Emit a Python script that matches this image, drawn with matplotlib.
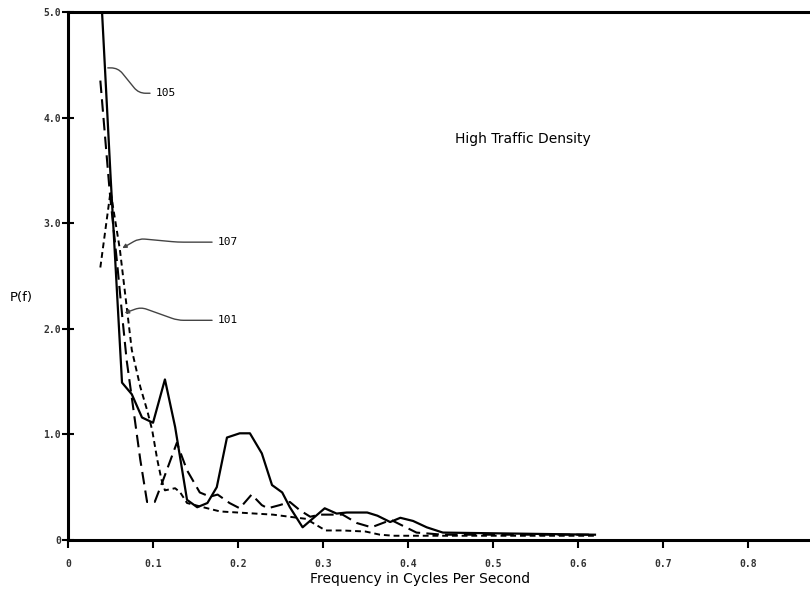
import matplotlib
matplotlib.use("Agg")
import matplotlib.pyplot as plt

# curve 105 (solid)
f_105 = [0.040, 0.050, 0.0635, 0.075, 0.087, 0.100, 0.114, 0.126, 0.140, 0.152,
         0.164, 0.175, 0.187, 0.202, 0.214, 0.228, 0.240, 0.252, 0.261, 0.276,
         0.302, 0.316, 0.328, 0.352, 0.364, 0.379, 0.391, 0.406, 0.422, 0.441, 0.620]
p_105 = [5.00, 3.45, 1.49, 1.38, 1.16, 1.11, 1.52, 1.07, 0.38, 0.31,
         0.35, 0.50, 0.97, 1.01, 1.01, 0.82, 0.52, 0.45, 0.31, 0.12,
         0.30, 0.25, 0.26, 0.26, 0.23, 0.17, 0.21, 0.18, 0.12, 0.07, 0.05]

# curve 101 (long dash)
f_101 = [0.038, 0.049, 0.058, 0.064, 0.069, 0.075, 0.085, 0.093, 0.102, 0.112,
         0.128, 0.140, 0.155, 0.167, 0.176, 0.190, 0.202, 0.216, 0.228, 0.235,
         0.249, 0.261, 0.273, 0.285, 0.296, 0.323, 0.340, 0.357, 0.380, 0.400,
         0.410, 0.441, 0.620]
p_101 = [4.35, 3.30, 2.60, 2.10, 1.70, 1.35, 0.76, 0.36, 0.36, 0.57,
         0.92, 0.66, 0.45, 0.41, 0.43, 0.35, 0.30, 0.43, 0.33, 0.30,
         0.33, 0.36, 0.28, 0.22, 0.24, 0.24, 0.16, 0.12, 0.19, 0.11,
         0.07, 0.05, 0.05]

# curve 107 (short dash)
f_107 = [0.038, 0.050, 0.061, 0.075, 0.085, 0.093, 0.099, 0.105, 0.110, 0.114,
         0.126, 0.132, 0.140, 0.159, 0.179, 0.241, 0.280, 0.303, 0.323, 0.350,
         0.367, 0.383, 0.423, 0.620]
p_107 = [2.58, 3.30, 2.75, 1.80, 1.45, 1.23, 1.04, 0.76, 0.57, 0.47,
         0.49, 0.45, 0.35, 0.31, 0.27, 0.24, 0.20, 0.09, 0.09, 0.08,
         0.05, 0.04, 0.04, 0.04]

xticks = [0, 0.1, 0.2, 0.3, 0.4, 0.5, 0.6, 0.7, 0.8]
xtick_labels = ["0", "0.1", "0.2", "0.3", "0.4", "0.5", "0.6", "0.7", "0.8"]
yticks = [0, 1, 2, 3, 4, 5]
ytick_labels = ["0", "1.0", "2.0", "3.0", "4.0", "5.0"]

fig = plt.figure(figsize=(8.1, 5.96), dpi=100)
ax = fig.add_axes([0.084, 0.094, 0.916, 0.886])

ax.plot(f_105, p_105, color="black", lw=1.6)
ax.plot(f_101, p_101, color="black", lw=1.5, dashes=(6, 3))
ax.plot(f_107, p_107, color="black", lw=1.4, dashes=(3, 2))

ax.set_xlim(0, 0.873)
ax.set_ylim(0, 5.0)
ax.spines["right"].set_visible(False)
for s in ["left", "top", "bottom"]:
    ax.spines[s].set_linewidth(2.2)

tick_font = {"family": "DejaVu Sans Mono", "size": 7, "color": "#333333", "weight": "bold"}
ax.set_xticks(xticks)
ax.set_xticklabels(xtick_labels, fontdict=tick_font)
ax.set_yticks(yticks)
ax.set_yticklabels(ytick_labels, fontdict=tick_font)
ax.tick_params(axis="x", direction="out", length=6, width=1.5, pad=8)
ax.tick_params(axis="y", direction="inout", length=8, width=1.5, pad=1)

ax.set_xlabel("Frequency in Cycles Per Second", fontsize=10, labelpad=2, x=0.474)
ax.text(-0.055, 2.3, "P(f)", fontsize=9.5, ha="center", va="center", clip_on=False)
ax.text(0.535, 3.8, "High Traffic Density", fontsize=10, ha="center", va="center")

lbl = dict(fontsize=8, family="DejaVu Sans Mono", va="center", ha="left")
ax.annotate("105", xy=(0.0435, 4.47), xytext=(0.103, 4.23), **lbl,
            arrowprops=dict(arrowstyle="-", color="#444444", lw=1, relpos=(0, 0.5),
                            connectionstyle="arc,angleA=180,angleB=0,armA=17,armB=13,rad=7"))
ax.annotate("107", xy=(0.061, 2.75), xytext=(0.176, 2.82), **lbl,
            arrowprops=dict(arrowstyle="-|>", mutation_scale=6, color="#444444", lw=1,
                            relpos=(0, 0.5),
                            connectionstyle="arc,angleA=180,angleB=30,armA=40,armB=22,rad=6"))
ax.annotate("101", xy=(0.0635, 2.14), xytext=(0.176, 2.08), **lbl,
            arrowprops=dict(arrowstyle="-|>", mutation_scale=6, color="#444444", lw=1,
                            relpos=(0, 0.5),
                            connectionstyle="arc,angleA=180,angleB=20,armA=40,armB=20,rad=6"))

fig.savefig("out.png", dpi=100)
